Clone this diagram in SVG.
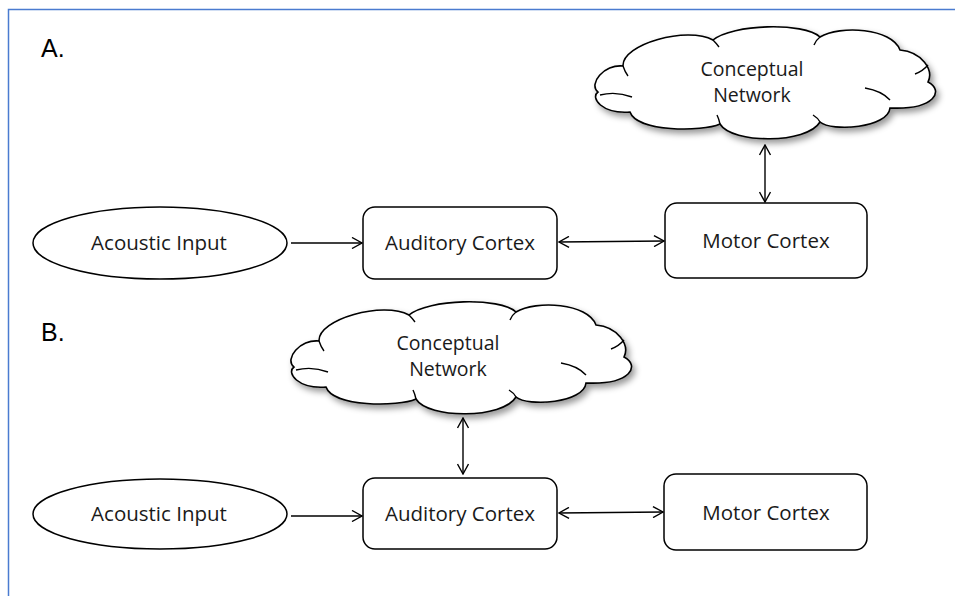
<svg xmlns="http://www.w3.org/2000/svg" xmlns:xlink="http://www.w3.org/1999/xlink" width="955" height="596" viewBox="0 0 955 596">
<defs>
<style>
.node{fill:#fff;stroke:#000;stroke-width:1.5}
.lbl{font-family:"Open Sans","Liberation Sans",sans-serif;font-size:20.5px;fill:#1a1a1a;text-anchor:middle}
.clbl{font-family:"Open Sans","Liberation Sans",sans-serif;font-size:19.5px;fill:#1a1a1a;text-anchor:middle}
.sec{font-family:"Liberation Sans",Arial,sans-serif;font-size:25px;fill:#000}
.edge{fill:none;stroke:#000;stroke-width:1.4}
.frame{fill:none;stroke:#4a7bd0;stroke-width:1.5}
.cloud{fill:#fff;stroke:#000;stroke-width:1.6}
.cin{fill:none;stroke:#000;stroke-width:1.4}
</style>
<marker id="ah" viewBox="0 0 12 12" refX="11" refY="6" markerWidth="12" markerHeight="12" markerUnits="userSpaceOnUse" orient="auto-start-reverse">
<path d="M1,0.5 L11,6 L1,11.5" fill="none" stroke="#000" stroke-width="1.4"/>
</marker>
<filter id="shadow" x="-10%" y="-15%" width="125%" height="145%">
<feDropShadow dx="3" dy="4" stdDeviation="3" flood-color="#000" flood-opacity="0.4"/>
</filter>
<g id="cloud-shape">
<path class="cloud" filter="url(#shadow)" d="M6,64 C-4,56 12,36 31,38 C30,16 95,-2 121,12 C140,-4 212,-6 228,9 C248,-3 300,0 308,22 C330,24 342,42 336,54 C352,62 344,82 298,80 C296,100 240,104 228,94 C215,116 140,116 128,96 C110,104 45,104 38,84 C10,86 -2,70 6,64 Z"/>
<path class="cin" d="M8,67 Q24,63 40,69"/>
<path class="cin" d="M31,38 Q33,44 36,48"/>
<path class="cin" d="M121,12 Q124,15 127,19"/>
<path class="cin" d="M228,9 Q224,12 222,17"/>
<path class="cin" d="M323,46 Q331,43 336,37"/>
<path class="cin" d="M273,60 Q290,63 298,72"/>
<path class="cin" d="M221,87 Q226,90 228,94"/>
<path class="cin" d="M125,87 Q127,91 128,96"/>
</g>
</defs>
<rect width="955" height="596" fill="#fff"/>
<path class="frame" d="M955,9.5 H8.5 V596"/>

<text class="sec" x="41" y="57">A.</text>
<text class="sec" x="41" y="341">B.</text>

<g id="connectors">
<line class="edge" x1="291" y1="243" x2="362" y2="243" marker-end="url(#ah)"/>
<line class="edge" x1="559" y1="242" x2="664" y2="241" marker-start="url(#ah)" marker-end="url(#ah)"/>
<line class="edge" x1="765" y1="145" x2="765" y2="202" marker-start="url(#ah)" marker-end="url(#ah)"/>
<line class="edge" x1="291" y1="516" x2="362" y2="516" marker-end="url(#ah)"/>
<line class="edge" x1="559" y1="513" x2="663" y2="512" marker-start="url(#ah)" marker-end="url(#ah)"/>
<line class="edge" x1="463" y1="418" x2="463" y2="474" marker-start="url(#ah)" marker-end="url(#ah)"/>
</g>

<g id="a-acoustic">
<ellipse class="node" cx="160" cy="243" rx="127" ry="36"/>
<text class="lbl" x="159" y="250">Acoustic Input</text>
</g>
<g id="a-auditory">
<rect class="node" x="363" y="207" width="194" height="72" rx="12"/>
<text class="lbl" x="460" y="250">Auditory Cortex</text>
</g>
<g id="a-motor">
<rect class="node" x="665" y="203" width="202" height="75" rx="12"/>
<text class="lbl" x="766" y="248">Motor Cortex</text>
</g>
<g id="a-cloud">
<use xlink:href="#cloud-shape" href="#cloud-shape" transform="translate(592,28)"/>
<text class="clbl" x="752" y="76">Conceptual</text>
<text class="clbl" x="752" y="102">Network</text>
</g>

<g id="b-acoustic">
<ellipse class="node" cx="160" cy="514" rx="127" ry="35"/>
<text class="lbl" x="159" y="521">Acoustic Input</text>
</g>
<g id="b-auditory">
<rect class="node" x="363" y="478" width="194" height="71" rx="12"/>
<text class="lbl" x="460" y="521">Auditory Cortex</text>
</g>
<g id="b-motor">
<rect class="node" x="664" y="474" width="203" height="76" rx="12"/>
<text class="lbl" x="766" y="520">Motor Cortex</text>
</g>
<g id="b-cloud">
<use xlink:href="#cloud-shape" href="#cloud-shape" transform="translate(288,303)"/>
<text class="clbl" x="448" y="350">Conceptual</text>
<text class="clbl" x="448" y="376">Network</text>
</g>
</svg>
